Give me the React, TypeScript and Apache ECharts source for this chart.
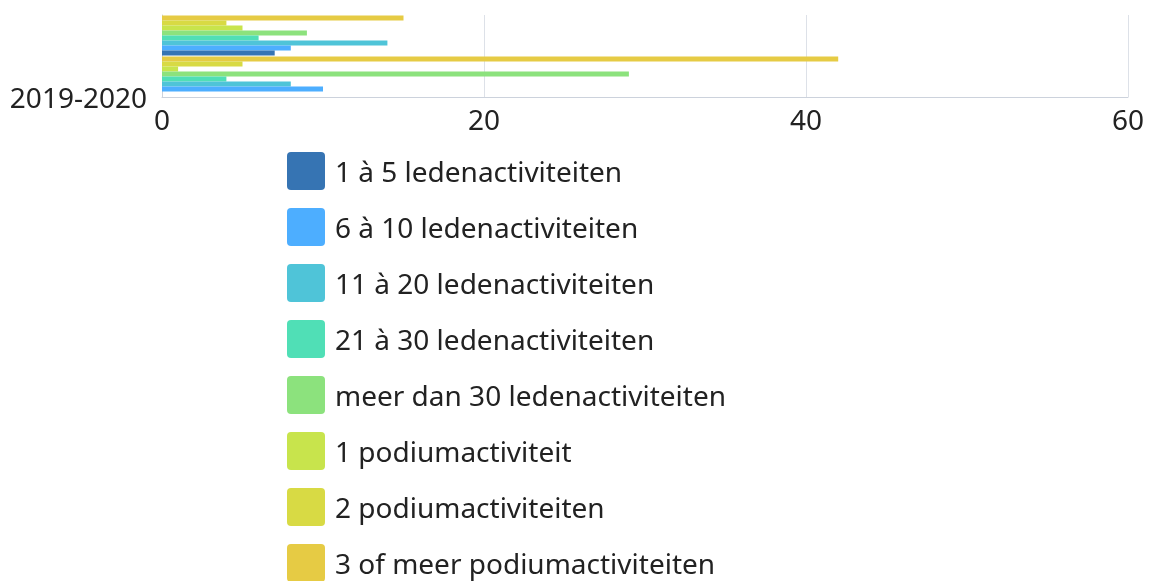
import React, { useEffect, useRef } from "react";
import * as echarts from "echarts";

const categories = ["2019-2020", "2020-2021"];
const seriesNames = [
  "1 à 5 ledenactiviteiten",
  "6 à 10 ledenactiviteiten",
  "11 à 20 ledenactiviteiten",
  "21 à 30 ledenactiviteiten",
  "meer dan 30 ledenactiviteiten",
  "1 podiumactiviteit",
  "2 podiumactiviteiten",
  "3 of meer podiumactiviteiten",
];
const seriesColors = [
  "#3674b3",
  "#4daeff",
  "#4fc4d8",
  "#50dfb6",
  "#8ce27d",
  "#c8e44c",
  "#d8da44",
  "#e6cb44",
];
// values per series: [2019-2020, 2020-2021]
const v1a5 = [0, 7];
const v6a10 = [10, 8];
const v11a20 = [8, 14];
const v21a30 = [4, 6];
const vMeer30 = [29, 9];
const v1Podium = [1, 5];
const v2Podium = [5, 4];
const v3Podium = [42, 15];
const seriesValues = [v1a5, v6a10, v11a20, v21a30, vMeer30, v1Podium, v2Podium, v3Podium];
const xTicks = [0, 20, 40, 60];

const FONT = "Noto Sans";

export default function App() {
  const ref = useRef<HTMLDivElement>(null);
  useEffect(() => {
    if (!ref.current) return;
    const chart = echarts.init(ref.current, undefined, { renderer: "svg" });
    const order = seriesNames.map((_, i) => i).reverse();
    chart.setOption({
      animation: false,
      textStyle: { fontFamily: FONT },
      grid: { left: 162, right: 26, top: 15, height: 82, containLabel: false },
      legend: {
        orient: "vertical",
        left: 287,
        top: 152,
        height: 600,
        padding: 0,
        itemWidth: 38,
        itemHeight: 38,
        itemGap: 18,
        icon: "path://M4,0 H34 A4,4 0 0 1 38,4 V34 A4,4 0 0 1 34,38 H4 A4,4 0 0 1 0,34 V4 A4,4 0 0 1 4,0 Z",
        textStyle: { fontFamily: FONT, fontSize: 28, color: "#222", padding: [0, 0, 0, 5] },
        data: seriesNames,
      },
      xAxis: {
        type: "value",
        min: xTicks[0],
        max: xTicks[xTicks.length - 1],
        interval: 20,
        axisLine: { show: true, lineStyle: { color: "#ccd2dc" } },
        axisTick: { show: false },
        splitLine: { show: true, lineStyle: { color: "#dde1e8" } },
        axisLabel: { fontFamily: FONT, fontSize: 28, color: "#222", margin: 8 },
      },
      yAxis: {
        type: "category",
        data: categories,
        axisLine: { show: true, lineStyle: { color: "#ccd2dc" } },
        axisTick: { show: false },
        axisLabel: {
          interval: 1,
          fontFamily: FONT,
          fontSize: 28,
          color: "#222",
          margin: 15,
          verticalAlign: "top",
          lineHeight: 41,
        },
      },
      series: order.map((i) => ({
        name: seriesNames[i],
        type: "bar",
        data: seriesValues[i],
        barWidth: 5,
        barGap: "0%",
        itemStyle: { color: seriesColors[i] },
      })),
    });
    return () => chart.dispose();
  }, []);
  return <div ref={ref} style={{ position: "fixed", left: 0, top: 0, width: 1154, height: 581 }} />;
}
